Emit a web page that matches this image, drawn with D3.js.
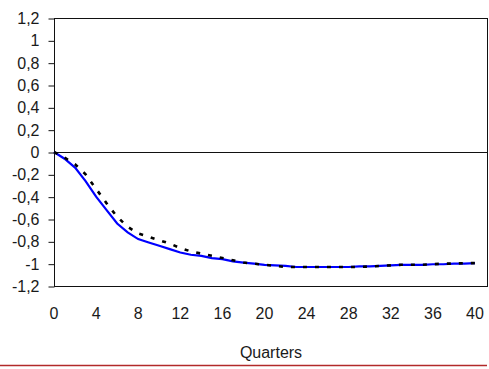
<!DOCTYPE html>
<html>
<head>
<meta charset="utf-8">
<script src="https://cdn.jsdelivr.net/npm/d3@7"></script>
<style>
  body { margin: 0; background: #fff; }
  svg text { font-family: "Liberation Sans", Arial, sans-serif; fill: #1a1a1a; }
</style>
</head>
<body>
<div id="vis"></div>
<script>
// quarters 0..40
const quarters = d3.range(0, 41);
const blueSeries = [0, -0.06, -0.14, -0.26, -0.40, -0.52, -0.64, -0.72, -0.78, -0.81,
  -0.84, -0.87, -0.90, -0.92, -0.93, -0.95, -0.96, -0.98, -0.99, -1.0,
  -1.01, -1.015, -1.02, -1.03, -1.03, -1.03, -1.03, -1.03, -1.03, -1.025,
  -1.025, -1.02, -1.015, -1.01, -1.01, -1.01, -1.005, -1.005, -1.0, -1.0, -0.995];
const dashSeries = [0, -0.05, -0.11, -0.20, -0.33, -0.46, -0.58, -0.67, -0.73, -0.76,
  -0.79, -0.82, -0.86, -0.89, -0.91, -0.93, -0.95, -0.97, -0.99, -1.0,
  -1.01, -1.02, -1.03, -1.03, -1.03, -1.03, -1.03, -1.03, -1.03, -1.03,
  -1.025, -1.02, -1.015, -1.01, -1.01, -1.01, -1.005, -1.0, -1.0, -0.995, -0.995];
const xTicks = [0, 4, 8, 12, 16, 20, 24, 28, 32, 36, 40];
const yTicks = [-1.2, -1, -0.8, -0.6, -0.4, -0.2, 0, 0.2, 0.4, 0.6, 0.8, 1, 1.2];
const xTitle = "Quarters";

function createChart() {
  const w = 489, h = 369;
  const left = 54, right = 487, top = 18, bottom = 286;

  const xScale = d3.scaleLinear().domain([0, 40]).range([left, 475]);
  const yScale = d3.scaleLinear().domain([-1.2, 1.2]).range([bottom, top]);

  const svg = d3.select("#vis").append("svg")
    .attr("width", w).attr("height", h);

  /* FRAME */
  svg.append("rect")
    .attr("x", left + 0.5).attr("y", top + 0.5)
    .attr("width", right - left).attr("height", bottom - top)
    .attr("fill", "none").attr("stroke", "#111").attr("stroke-width", 1);

  /* Y AXIS */
  const fmt = d => d3.format(".1~f")(d).replace(".", ",").replace("−", "-");
  const yAxis = svg.append("g")
    .attr("transform", "translate(" + (left + 0.5) + ",0.5)")
    .call(d3.axisLeft(yScale).tickValues(yTicks).tickSize(6).tickPadding(9).tickFormat(fmt));
  yAxis.select(".domain").remove();
  yAxis.selectAll("line").attr("stroke", "#111");
  yAxis.selectAll("text").style("font-size", "16px")
    .style("font-family", "'Liberation Sans', Arial, sans-serif").attr("fill", "#1a1a1a");

  /* X LABELS */
  svg.append("g").selectAll("text")
    .data(xTicks).enter().append("text")
    .attr("x", d => xScale(d))
    .attr("y", 319)
    .attr("text-anchor", "middle")
    .style("font-size", "16px")
    .text(d => d);

  svg.append("text")
    .attr("x", 271).attr("y", 358)
    .attr("text-anchor", "middle")
    .style("font-size", "16px")
    .text(xTitle);

  /* ZERO LINE */
  svg.append("line")
    .attr("x1", left).attr("x2", right)
    .attr("y1", Math.round(yScale(0)) + 0.5).attr("y2", Math.round(yScale(0)) + 0.5)
    .attr("stroke", "#111").attr("stroke-width", 1);

  /* LINES */
  const line = d3.line()
    .x((d, i) => xScale(quarters[i]))
    .y(d => yScale(d));

  svg.append("path")
    .attr("d", line(blueSeries))
    .attr("fill", "none").attr("stroke", "#0000ff").attr("stroke-width", 2.2);

  svg.append("path")
    .attr("d", line(dashSeries))
    .attr("fill", "none").attr("stroke", "#000").attr("stroke-width", 2.6)
    .attr("stroke-dasharray", "4,8");

  /* RED RULE */
  svg.append("line")
    .attr("x1", 0).attr("x2", 487).attr("y1", 365.5).attr("y2", 365.5)
    .attr("stroke", "#b22a2a").attr("stroke-width", 1.5);
}

createChart();
</script>
</body>
</html>
